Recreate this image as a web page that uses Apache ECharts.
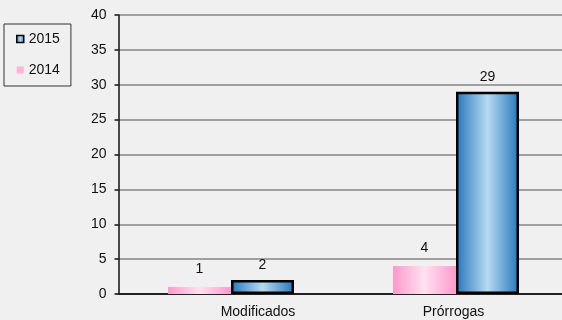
<!DOCTYPE html>
<html>
<head>
<meta charset="utf-8">
<script src="https://cdn.jsdelivr.net/npm/echarts@6/dist/echarts.min.js"></script>
<style>
html,body{margin:0;padding:0;background:#f0f0f0;}
#c{width:562px;height:320px;}
</style>
</head>
<body>
<div id="c"></div>
<script>
var categories = ['Modificados', 'Prórrogas'];
var values2014 = [1, 4];
var values2015 = [2, 29];
var seriesNames = ['2015', '2014'];

var pinkGrad = new echarts.graphic.LinearGradient(0, 0, 1, 0, [
  {offset: 0, color: '#ff99cc'},
  {offset: 0.5, color: '#ffe2f1'},
  {offset: 1, color: '#ff99cc'}
]);
var blueGrad = new echarts.graphic.LinearGradient(0, 0, 1, 0, [
  {offset: 0, color: '#2676be'},
  {offset: 0.5, color: '#b5dbf0'},
  {offset: 1, color: '#2676be'}
]);

var chart = echarts.init(document.getElementById('c'));
var font = 'Liberation Sans, Arial, sans-serif';
chart.setOption({
  backgroundColor: '#f0f0f0',
  animation: false,
  textStyle: {fontFamily: font},
  grid: {left: 118.5, top: 15, width: 450, height: 279, outerBoundsMode: 'none', containLabel: false},
  legend: {
    left: 4, top: 24,
    orient: 'vertical',
    icon: 'rect',
    data: [
      {name: '2015', itemStyle: {borderWidth: 1.5, borderColor: '#000'}},
      {name: '2014', itemStyle: {color: '#ffb3d9'}}
    ],
    padding: [8, 11, 9, 12],
    itemGap: 17,
    itemWidth: 7, itemHeight: 7,
    itemTextGap: 2,
    borderColor: '#333', borderWidth: 1,
    textStyle: {fontSize: 14, color: '#111', fontFamily: font}
  },
  xAxis: {
    type: 'category',
    data: categories,
    axisLine: {lineStyle: {color: '#222', width: 2}},
    axisTick: {lineStyle: {color: '#555', width: 2}, length: 4},
    axisLabel: {
      margin: 11,
      fontSize: 14, color: '#111', fontFamily: font,
      formatter: function (v, i) { return i === 0 ? '{a|' + v + '}' : '{b|' + v + '}'; },
      rich: {
        a: {fontSize: 14, color: '#111', fontFamily: font, padding: [0, 0, 0, 54]},
        b: {fontSize: 14, color: '#111', fontFamily: font, padding: [0, 5, 0, 0]}
      }
    }
  },
  yAxis: {
    type: 'value',
    min: 0, max: 40, interval: 5,
    axisLine: {show: true, lineStyle: {color: '#111', width: 1.5}},
    axisTick: {show: true, length: 4, lineStyle: {color: '#111', width: 1.5}},
    axisLabel: {margin: 12, fontSize: 14, color: '#111', fontFamily: font},
    splitLine: {lineStyle: {color: '#a0a0a0', width: 2}}
  },
  series: [
    {
      name: '2014', type: 'bar', data: values2014,
      barWidth: '28%', barGap: '0%',
      itemStyle: {color: pinkGrad},
      label: {show: true, position: 'top', distance: 11, fontSize: 14, color: '#111', fontFamily: font}
    },
    {
      name: '2015', type: 'bar', data: values2015,
      barWidth: '28%', barGap: '0%',
      itemStyle: {color: blueGrad, borderColor: '#000', borderWidth: 2.5},
      label: {show: true, position: 'top', distance: 8, fontSize: 14, color: '#111', fontFamily: font}
    }
  ]
});
</script>
</body>
</html>
